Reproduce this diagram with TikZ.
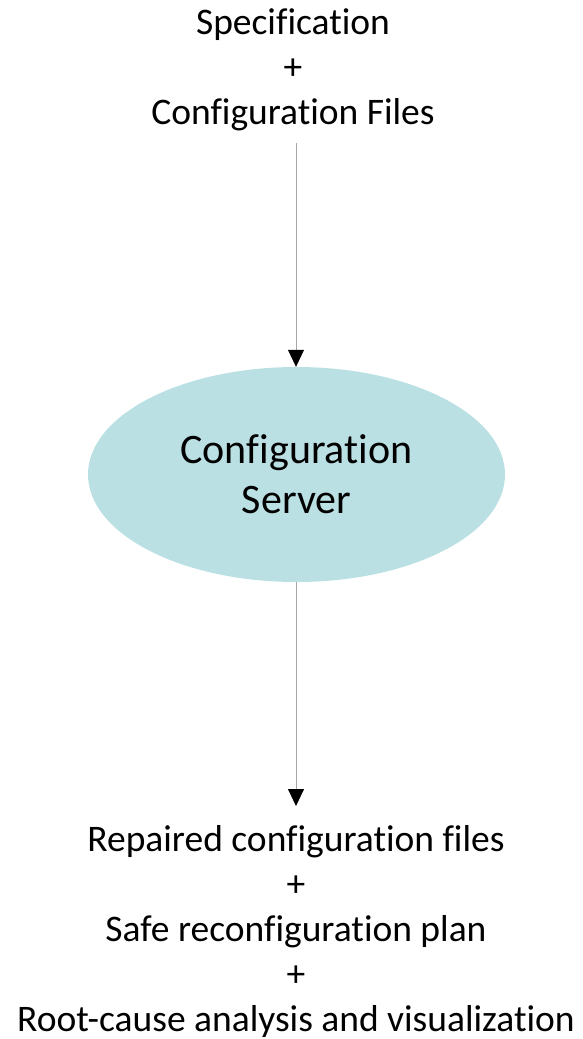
\documentclass[tikz,border=0pt]{standalone}
\usepackage{fontspec}
\setmainfont{Carlito}[Ligatures={NoCommon}]
\usetikzlibrary{arrows.meta,shapes.geometric}
\definecolor{serverfill}{HTML}{BAE0E3}
\tikzset{
  label text/.style={align=center, font=\fontsize{37.5}{45}\selectfont, inner sep=0pt},
  server/.style={ellipse, fill=serverfill, minimum width=417pt, minimum height=215pt,
                 align=center, font=\fontsize{42}{50}\selectfont, inner sep=0pt},
  flow/.style={draw=black!35, line width=0.8pt,
               -{Triangle[length=17pt,width=16pt,color=black,fill=black]}}
}
\begin{document}
\begin{tikzpicture}[x=1pt,y=1pt]
  \useasboundingbox (0,0) rectangle (582,-1039);
  \node[label text] (input) at (293,-70) {Specification\\+\\Configuration Files};
  \node[server] (cs) at (296.5,-474.5) {Configuration\\Server};
  \node[label text] (output) at (296,-931) {Repaired configuration files\\+\\Safe reconfiguration plan\\+\\Root-cause analysis and visualization};
  \coordinate (inEnd) at (296,-143);
  \coordinate (outEnd) at (296,-806);
  \draw[flow] (inEnd) -- (cs.north -| inEnd);
  \draw[flow] (cs.south -| outEnd) -- (outEnd);
\end{tikzpicture}
\end{document}
